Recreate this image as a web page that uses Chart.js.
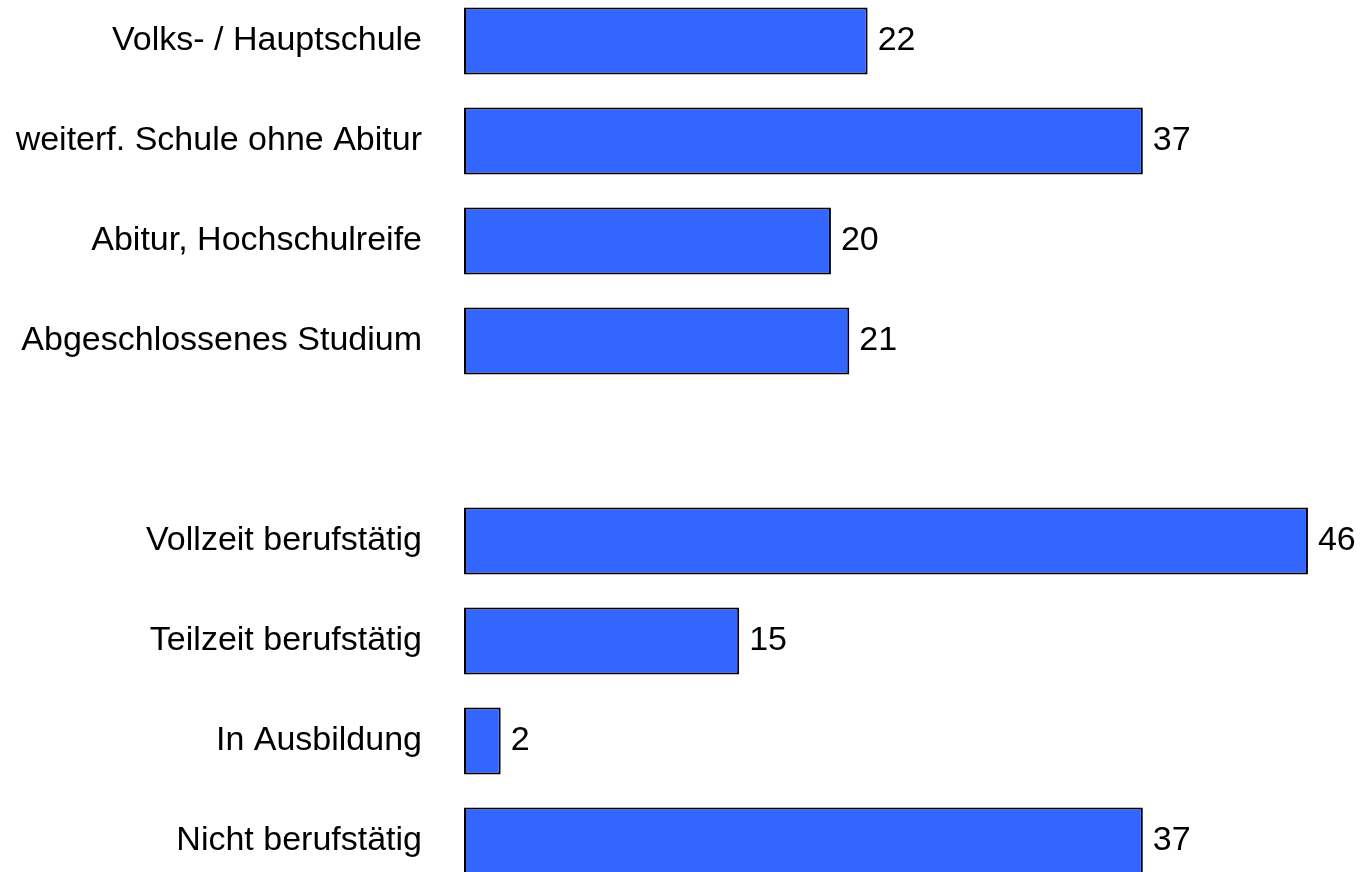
<!DOCTYPE html>
<html>
<head>
<meta charset="utf-8">
<script src="https://cdn.jsdelivr.net/npm/chart.js@4"></script>
<style>
  html, body { margin: 0; padding: 0; background: #fff; overflow: hidden; }
  #wrap { position: absolute; left: 0; top: -9px; width: 1363px; height: 900px; }
</style>
</head>
<body>
<div id="wrap"><canvas id="myChart" width="1363" height="900"></canvas></div>
<script>
// categories (empty slot separates the two groups)
const labels = ['Volks- / Hauptschule', 'weiterf. Schule ohne Abitur', 'Abitur, Hochschulreife', 'Abgeschlossenes Studium',
    '', 'Vollzeit berufstätig', 'Teilzeit berufstätig', 'In Ausbildung', 'Nicht berufstätig'];
const values = [22, 37, 20, 21, null, 46, 15, 2, 37];

const fontFam = 'Arial, "Liberation Sans", sans-serif';

// value labels to the right of each bar
const valueLabels = {
    id: 'valueLabels',
    afterDatasetsDraw(chart) {
        const c = chart.ctx;
        const meta = chart.getDatasetMeta(0);
        c.save();
        c.font = '34px ' + fontFam;
        c.fillStyle = '#000';
        c.textAlign = 'left';
        c.textBaseline = 'middle';
        meta.data.forEach((bar, i) => {
            if (values[i] == null) return;
            c.fillText(String(values[i]), bar.x + 10, bar.y);
        });
        c.restore();
    }
};

const ctx = document.getElementById('myChart');

new Chart(ctx, {
    type: 'bar',
    data: {
        labels: labels,
        datasets: [{
            data: values,
            backgroundColor: '#3366FF',
            borderColor: '#000',
            borderWidth: 2,
            borderSkipped: false,
            barPercentage: 0.67,
            categoryPercentage: 1
        }]
    },
    options: {
        indexAxis: 'y',
        responsive: false,
        animation: false,
        layout: { padding: 0 },
        plugins: {
            legend: { display: false },
            tooltip: { enabled: false }
        },
        scales: {
            x: {
                display: false,
                min: 0,
                max: 49
            },
            y: {
                grid: { display: false, drawTicks: false },
                border: { display: false },
                ticks: {
                    color: '#000',
                    padding: 42,
                    font: { family: fontFam, size: 34 }
                },
                afterFit(scale) {
                    scale.width = 464;
                    scale.paddingTop = 0;
                    scale.paddingBottom = 0;
                }
            }
        }
    },
    plugins: [valueLabels]
});
</script>
</body>
</html>
